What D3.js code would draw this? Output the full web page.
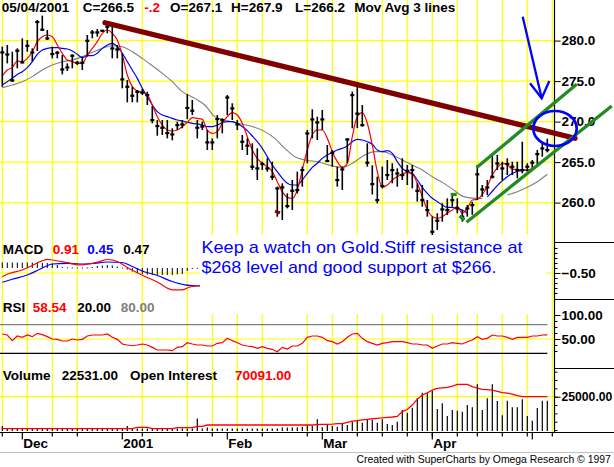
<!DOCTYPE html>
<html lang="en">
<head>
<meta charset="UTF-8">
<title>Gold daily - SuperCharts</title>
<script src="https://cdnjs.cloudflare.com/ajax/libs/d3/7.8.5/d3.min.js"></script>
<style>
  html, body { margin: 0; padding: 0; background: #fff; }
  svg { display: block; font-family: "Liberation Sans", Arial, sans-serif; }
  .lbl { font-size: 13.5px; font-weight: bold; }
  .axis text { font-size: 13.5px; font-weight: bold; fill: #000; font-family: "Liberation Sans", Arial, sans-serif; }
  .axis line { stroke: #000; }
  .grid { stroke: #ffff00; stroke-width: 1.2; }
</style>
</head>
<body>
<svg id="chart" width="614" height="467"></svg>
<script>
// ---- data (one entry per trading day, 27 Nov 2000 .. 4 May 2001)
const holidays = ["2000-12-25", "2001-01-01", "2001-01-15", "2001-02-19", "2001-04-13"];

const highs = [279.25,279.46,278.63,279.04,280.28,280.07,279.04,282.54,283.08,281.31,
  279.25,278.72,278.22,277.19,278.3,277.48,278.02,280.69,281.31,281.43,
  281.31,282.42,281.72,279.46,278.43,275.14,274.31,273.9,274.02,273.69,
  271.93,270.2,270.2,270.2,269.17,269.99,270.2,273.4,272.67,270.2,
  269.99,268.96,267.93,270.81,270.4,273.28,272.26,270.2,268.35,267.93,
  267.32,266.7,265.05,265.47,265.05,261.97,262.38,261.14,262.79,263.82,
  264.44,268.96,271.51,270.61,271.43,267.11,266.49,264.44,264.44,267.93,
  273.7,274.9,272.05,267.32,264.6,263.2,264.44,265.26,264.85,264.23,
  265.47,264.64,264.64,262.38,262.17,260.32,258.26,258.68,259.91,260.53,
  260.94,260.53,259.09,259.7,260.1,264.64,262.17,262.79,266.08,265.88,
  265.05,265.47,265.05,265.05,267.52,264.85,265.26,266.49,267.32,267.9];
const lows = [274.3,277.19,274.93,276.58,277.19,278.63,277.4,278.72,281.31,280.07,
  277.81,277.81,275.83,276.25,276.58,276.99,276.37,278.02,280.28,280.49,
  281.1,280.9,277.81,277.81,274.11,272.38,272.38,272.38,273.28,272.05,
  269.79,268.26,268.35,267.93,267.69,268.96,269.17,270.3,270.81,267.93,
  268.96,266.49,266.49,267.93,268.55,270.81,270.2,268.96,266.49,265.88,
  264.03,262.79,264.03,263.82,262.79,258.26,257.85,259.29,259.09,261.14,
  261.97,264.85,267.93,267.73,268.96,265.05,264.44,261.97,261.56,264.85,
  269.17,269.2,269.37,264.44,261.0,259.9,261.76,262.79,262.38,261.97,
  262.79,262.17,261.76,260.12,259.5,258.26,255.8,256.62,257.65,258.47,
  259.5,258.68,257.65,258.27,258.5,260.32,260.73,260.94,262.99,264.03,
  262.79,263.41,263.41,263.0,263.61,263.82,264.03,264.44,265.67,266.2];
const closes = [278.55,278.3,275.09,278.76,277.32,279.37,278.55,282.3,281.35,280.28,
  278.35,278.51,276.45,276.7,278.14,277.28,277.28,279.99,281.02,281.02,
  281.23,281.72,279.04,278.92,275.22,274.31,273.2,273.69,273.61,273.28,
  270.2,269.46,269.25,268.59,268.43,269.58,269.66,271.7,271.35,269.25,
  269.4,267.44,267.44,270.32,270.2,272.99,271.64,269.66,267.52,267.03,
  264.44,264.23,264.77,264.23,263.2,261.76,261.89,259.58,261.47,261.56,
  264.03,268.55,270.28,269.91,270.28,265.14,266.17,262.79,264.11,267.81,
  273.28,271.0,269.58,264.93,262.3,260.32,262.05,263.41,264.03,263.61,
  263.41,263.94,264.03,261.47,260.32,259.09,256.41,257.77,259.17,259.09,
  260.32,259.29,258.27,259.29,259.7,263.5,261.64,261.89,263.2,264.85,
  264.23,264.77,264.44,264.03,264.03,264.44,264.93,266.0,266.7,266.5];

// moving averages (null = not drawn)
const maFast = [275.63,276.37,276.7,277.48,277.4,277.81,278.63,279.87,280.49,280.69,
  280.49,279.46,278.43,277.6,277.4,277.19,277.19,278.22,279.04,279.87,
  280.9,281.31,280.9,280.07,278.22,275.75,274.31,273.78,273.61,273.28,
  272.05,270.61,269.58,268.96,268.84,268.96,269.37,269.9,270.49,270.4,
  270.28,268.96,268.55,268.76,269.79,270.61,271.1,270.81,269.79,268.14,
  266.49,265.46,264.85,264.44,263.82,262.58,261.35,260.65,260.53,261.56,
  264.03,266.49,268.35,268.96,268.96,267.93,266.29,265.05,264.35,264.85,
  268.14,270.61,271.1,269.79,267.1,263.82,261.89,262.17,262.79,263.2,
  263.53,263.7,263.53,262.38,260.73,259.09,258.27,258.06,258.27,258.68,
  259.09,259.5,258.68,259.29,260.32,260.4,261.0,262.0,263.4,264.3,
  264.85,264.7,264.1,264.1,264.0,264.03,264.2,null,null,null];
const maMid = [274.52,274.93,275.34,275.83,276.16,276.66,277.4,278.3,278.84,279.04,
  279.13,279.13,279.04,278.96,278.72,278.3,277.89,278.14,278.14,278.43,
  279.04,279.46,279.66,279.25,278.43,277.4,276.37,275.34,274.11,273.08,
  272.05,271.23,270.81,270.61,270.4,270.2,270.07,269.9,269.79,269.7,
  269.58,269.37,269.37,269.58,269.87,269.99,269.99,269.79,269.37,268.88,
  268.22,267.52,266.7,265.67,264.64,263.82,263.0,262.38,262.17,262.17,
  262.79,263.61,264.35,264.85,265.46,265.88,266.17,266.49,266.7,266.99,
  267.52,267.81,267.73,267.52,267.2,266.49,266.29,266.41,266.08,265.05,
  264.23,263.82,263.61,262.79,261.89,261.14,260.53,260.12,259.7,259.42,
  259.42,259.29,259.09,258.68,null,null,null,260.7,261.4,262.1,
  262.7,263.2,263.6,263.85,263.95,264.0,264.1,null,null,null];
// slow average read at [bar, value]; null splits the line
const maSlow = [[0,274.19],[2,274.52],[4,274.93],[6,275.55],[8,276.37],[10,276.99],[12,277.4],
  [14,277.6],[16,278.02],[18,278.55],[20,279.04],[22,279.37],[24,279.25],[26,278.63],[28,277.81],
  [30,276.9],[32,275.96],[34,274.93],[36,273.7],[38.5,272.87],[40.5,272.05],[42.5,270.61],
  [44.5,270.2],[47,269.79],[50,269.4],[52.5,268.76],[54.5,267.93],[56.5,266.7],[58.5,265.67],
  [60.5,265.26],[63,265.05],[66,264.52],[68,264.35],[70,264.85],[72.5,265.88],[74.5,266.29],
  [76,266.29],[78,265.88],[80,265.26],[82,264.64],[84,264.03],[86,263.2],[88,262.5],[90,261.7],
  [92,260.8],[94,260.55],[96,260.5], null,
  [101,260.94],[103,261.35],[105,261.89],[107,262.58],[109,263.5]];

// MACD (visible part only, the note box hides the rest)
const macdLine = [[0,-0.87],[1.5,-0.53],[3.5,-0.27],[5.5,0.13],[7.5,0.63],[9,0.87],[10,0.8],[13,0.53],
  [15.5,0.3],[17.5,0.42],[19.5,0.65],[21,0.85],[23,0.65],[25,0.05],[28,-0.72],[31,-1.4],[34,-2.18],
  [36,-2.18],[37.5,-1.9],[39.6,-1.75]];
const macdSignal = [[0,-1.43],[2,-1.13],[5,-0.7],[7.5,-0.13],[10,0.4],[13,0.47],[15.5,0.4],[18,0.45],
  [21,0.6],[24,0.55],[26,0.15],[28,-0.3],[31,-0.75],[34,-1.35],[36.5,-1.68],[39.6,-1.8]];
const macdHist = [0.55,0.55,0.55,0.55,0.55,0.55,0.55,0.55,0.5,0.5,
  0.45,0.3,0.1,0.08,0.05,0.05,0.05,0.05,0.1,0.2,
  0.25,0.3,0.25,0.15,0.05,-0.15,-0.35,-0.5,-0.6,-0.65,
  -0.7,-0.7,-0.7,-0.7,-0.7,-0.65,-0.6,-0.3,-0.05,0.03];

const rsi = [60.4,58.3,46.5,56.3,53.5,58.3,54.9,61.8,59,54.9,
  50,49.3,45.8,45.8,50,47.9,49.3,56.3,58.3,58.3,
  58.3,60.4,53.5,49.3,39.6,37.5,36,37.5,39.6,37.5,
  32.6,27.1,27.1,27.1,25.7,32.6,34,42.3,39.6,37.5,
  37.5,35.4,35.4,41,42.3,51.4,46.5,42.3,37.5,35.4,
  34,30.6,34,30.6,28.5,23.5,32.6,29.2,35.4,35.4,
  41,53.5,56.3,56.3,53.5,46.5,44.4,39.6,44.4,53.5,
  60.4,61.8,51.4,44.4,41,37.5,41,42.3,44.4,44.4,
  44.4,42.3,39.6,39.6,37.5,37.5,30.6,35.4,39.6,39.6,
  42.3,41,39.6,44.4,47.9,54.9,49.3,51.4,58.3,56.3,
  56.3,53.5,49.3,53.5,53.5,53.5,56.3,56.3,58.3,58.54];

const volume = [7400,6000,6000,6000,6000,6000,6000,6000,6000,6000,
  6000,6000,6000,6000,6000,6000,6000,6000,6000,6000,
  6000,6000,6000,6000,6000,7400,6000,6000,6000,6000,
  6000,6000,6000,6000,6000,6000,6000,6000,6000,12000,
  6000,6600,6000,6000,6000,6000,6000,6000,6000,6000,
  6000,6000,6000,6000,6000,6000,6600,6600,6600,6600,
  7000,8040,7440,11440,6640,8440,7440,7040,9040,8040,
  10040,11040,9440,11440,11040,9440,11440,8640,8040,10040,
  17040,15440,18440,24040,27440,27040,28440,17640,21040,13440,
  17040,16640,16040,20040,18640,32440,17040,24040,32440,22440,
  13940,22640,18640,18640,23440,13440,10640,18240,22640,22531];
const openInterest = [16300,16300,16300,16300,16300,16300,16300,16300,16300,16300,
  16300,16300,16300,16300,16300,16300,16300,16300,16300,16300,
  16300,16300,16300,16300,16300,16300,16300,18700,18700,18700,
  16300,16300,16300,16300,16300,18000,18000,18000,18000,20300,
  20300,22500,22500,22500,22500,22500,22500,22500,22500,22500,
  22500,22500,22500,22500,22500,22500,22500,22500,22500,22500,
  22500,22500,22500,23000,23500,23600,24000,24700,25000,27000,
  29000,30000,31000,32000,33000,33700,34500,35500,36000,37000,
  45000,48500,56000,66000,73000,76500,81300,84000,85000,85800,
  88000,90850,90850,90850,87000,84500,82500,82000,81300,79000,
  76800,76000,74600,72000,70100,70100,70100,70100,70100,70091];

// hand drawn marks, in [bar, price]
const resistanceLine = [[20.54, 282.21], [114.54, 267.94]];
const channelUpper = [[94.88, 264.33], [114.88, 274.6]];
const channelLower = [[92.84, 257.58], [121.88, 271.93]];
const greenMarks = [[[89.68, 261.0], [90.88, 261.0]], [[91.44, 258.35], [92.44, 257.85]]];
const brownMark = [[54.54, 258.96], [55.54, 258.72]];
const arrowShaft = [[104.08, 282.95], [107.88, 272.88]];
const arrowHead = [[105.54, 274.73], [107.88, 272.88], [109.4, 275.01]];
const ring = { bar: 110.54, price: 269.15, halfBars: 4.34, halfPrice: 2.16 };

const priceTicks = [260, 265, 270, 275, 280];
const header = [
  { t: "05/04/2001", x: 1.7, c: "#000" }, { t: "C=266.5", x: 82.7, c: "#000" },
  { t: "-.2", x: 144.3, c: "#ff0000" }, { t: "O=267.1", x: 170, c: "#000" },
  { t: "H=267.9", x: 231, c: "#000" }, { t: "L=266.2", x: 295, c: "#000" },
  { t: "Mov Avg 3 lines", x: 354.3, c: "#000" }];
const noteLines = ["Keep a watch on Gold.Stiff resistance at", "$268 level and good support at $266."];

// ---- layout
const axisX = 554.5, baseY = 432.5;
const svg = d3.select("#chart");

const fmtKey = d3.timeFormat("%Y-%m-%d");
const calendar = d3.timeDay.range(new Date(2000, 10, 27), new Date(2001, 4, 8))
  .filter(d => d.getDay() % 6 !== 0 && !holidays.includes(fmtKey(d)));
const days = calendar.slice(0, closes.length);

const x = d3.scaleLinear().domain([0, 109]).range([2.3, 547.3]);
const yPrice = d3.scaleLinear().domain([260, 280]).range([202.6, 40.6]);
const yMacd = d3.scaleLinear().domain([-0.5, 0]).range([273, 268]);
const yRsi = d3.scaleLinear().domain([20, 100]).range([353.4, 315]);
const yVol = d3.scaleLinear().domain([0, 25000]).range([438.4, 396.7]);
const yOI = d3.scaleLinear().domain([0, 70091]).range([438.4, 396.7]);

const mondays = calendar.map((d, i) => d.getDay() === 1 ? i : -1).filter(i => i >= 0 && x(i) < axisX);
const monthStarts = days.map((d, i) => i > 0 && d.getMonth() !== days[i - 1].getMonth() ? i : -1).filter(i => i >= 0);

// ---- grid
const grid = svg.append("g");
grid.selectAll(".v").data(mondays).join("line").attr("class", "grid")
  .attr("x1", x).attr("x2", x).attr("y1", 0).attr("y2", baseY);
grid.selectAll(".hp").data(priceTicks).join("line").attr("class", "grid")
  .attr("x1", 0).attr("x2", axisX).attr("y1", yPrice).attr("y2", yPrice);
grid.append("line").attr("class", "grid").attr("x1", 0).attr("x2", axisX).attr("y1", yMacd(-0.5)).attr("y2", yMacd(-0.5));
grid.append("line").attr("class", "grid").attr("x1", 0).attr("x2", axisX).attr("y1", yRsi(50)).attr("y2", yRsi(50));
grid.append("line").attr("class", "grid").attr("x1", 0).attr("x2", axisX).attr("y1", yVol(25000)).attr("y2", yVol(25000));

// ---- price panel
const lineOf = (ys) => d3.line().defined(d => d != null).x((d, i) => x(i)).y(d => ys(d));
svg.append("path").datum(maSlow).attr("fill", "none").attr("stroke", "#808080").attr("stroke-width", 1.1)
  .attr("d", d3.line().defined(d => d != null).x(d => x(d[0])).y(d => yPrice(d[1])).curve(d3.curveMonotoneX));
svg.append("path").datum(maMid).attr("fill", "none").attr("stroke", "#0000ff").attr("stroke-width", 1.2)
  .attr("d", lineOf(yPrice).curve(d3.curveMonotoneX));
svg.append("path").datum(maFast).attr("fill", "none").attr("stroke", "#ff0000").attr("stroke-width", 1.2)
  .attr("d", lineOf(yPrice).curve(d3.curveMonotoneX));

const bars = svg.append("g").selectAll("g").data(closes).join("g");
bars.append("line").attr("stroke", "#000").attr("stroke-width", 1.6)
  .attr("x1", (d, i) => x(i)).attr("x2", (d, i) => x(i))
  .attr("y1", (d, i) => yPrice(highs[i])).attr("y2", (d, i) => yPrice(lows[i]));
bars.append("rect").attr("fill", "#000")
  .attr("x", (d, i) => x(i) - 2).attr("y", d => yPrice(d) - 1).attr("width", 4).attr("height", 2.2);

// ---- MACD
svg.append("g").selectAll("rect").data(macdHist).join("rect").attr("fill", "#000")
  .attr("x", (d, i) => x(i) - 0.5).attr("width", 1)
  .attr("y", d => Math.min(yMacd(0), yMacd(d)))
  .attr("height", d => Math.max(1, Math.abs(yMacd(d) - yMacd(0))));
const pairLine = (ys) => d3.line().defined(d => d != null).x(d => x(d[0])).y(d => ys(d[1])).curve(d3.curveMonotoneX);
svg.append("path").datum(macdSignal).attr("fill", "none").attr("stroke", "#0000ff").attr("stroke-width", 1.2).attr("d", pairLine(yMacd));
svg.append("path").datum(macdLine).attr("fill", "none").attr("stroke", "#ff0000").attr("stroke-width", 1.2).attr("d", pairLine(yMacd));

// ---- RSI
svg.append("line").attr("x1", 0).attr("x2", x(109)).attr("y1", yRsi(80)).attr("y2", yRsi(80)).attr("stroke", "#808080").attr("stroke-width", 1.2);
svg.append("line").attr("x1", 0).attr("x2", x(109)).attr("y1", yRsi(20)).attr("y2", yRsi(20)).attr("stroke", "#000").attr("stroke-width", 1.2);
svg.append("path").datum(rsi).attr("fill", "none").attr("stroke", "#ff0000").attr("stroke-width", 1.2).attr("d", lineOf(yRsi));

// ---- volume / open interest
svg.append("g").selectAll("line").data(volume).join("line").attr("stroke", "#000").attr("stroke-width", 1.2)
  .attr("x1", (d, i) => x(i)).attr("x2", (d, i) => x(i))
  .attr("y1", 431).attr("y2", d => Math.min(430, yVol(d)));
svg.append("path").datum(openInterest).attr("fill", "none").attr("stroke", "#ff0000").attr("stroke-width", 1.3).attr("d", lineOf(yOI));

// ---- note box
svg.append("rect").attr("x", 200).attr("y", 235).attr("width", 346).attr("height", 79).attr("fill", "#fff");
svg.selectAll(".note").data(noteLines).join("text").attr("class", "note")
  .attr("x", 201.5).attr("y", (d, i) => 253.3 + i * 19.4)
  .attr("font-size", 17).attr("fill", "#0000ff")
  .attr("textLength", (d, i) => i === 0 ? 321 : 295).attr("lengthAdjust", "spacingAndGlyphs")
  .text(d => d);

// ---- labels
svg.selectAll(".hdr").data(header).join("text").attr("class", "lbl")
  .attr("x", d => d.x).attr("y", 11.7).attr("fill", d => d.c).text(d => d.t);
const panelLabel = (y, parts) => svg.append("g").selectAll("text").data(parts).join("text").attr("class", "lbl")
  .attr("x", d => d[1]).attr("y", y).attr("fill", d => d[2]).text(d => d[0]);
panelLabel(254.3, [["MACD", 2.7, "#000"], ["0.91", 52.7, "#ff0000"], ["0.45", 87.3, "#0000ff"], ["0.47", 123.3, "#000"]]);
panelLabel(311.7, [["RSI", 2.7, "#000"], ["58.54", 32.7, "#ff0000"], ["20.00", 77.3, "#000"], ["80.00", 120.7, "#808080"]]);
panelLabel(380, [["Volume", 2.7, "#000"], ["22531.00", 61.7, "#000"], ["Open Interest", 130, "#000"], ["70091.00", 235, "#ff0000"]]);

// ---- right axes
const frame = svg.append("g").attr("stroke", "#000").attr("stroke-width", 1.2);
frame.append("line").attr("x1", axisX).attr("x2", axisX).attr("y1", 0).attr("y2", baseY);
[242.5, 299.5, 368.5].forEach(y => frame.append("line").attr("x1", axisX).attr("x2", 614).attr("y1", y).attr("y2", y));
frame.append("line").attr("x1", 0).attr("x2", 614).attr("y1", baseY).attr("y2", baseY);

function rightAxis(scale, labelled, fmt, minor) {
  const g = svg.append("g").attr("class", "axis").attr("transform", `translate(${axisX},0)`);
  if (minor) g.append("g").call(d3.axisRight(scale).tickValues(minor).tickSize(3).tickFormat(""));
  g.append("g").call(d3.axisRight(scale).tickValues(labelled).tickSize(6).tickPadding(1).tickFormat(d3.format(fmt)));
  g.selectAll(".domain").remove();
  return g;
}
rightAxis(yPrice, priceTicks, ".1f");
rightAxis(yMacd, [-0.5], ".2f", d3.range(-2.5, 2.01, 0.5));
rightAxis(yRsi, [50, 100], ".2f", d3.range(25, 100, 12.5));
rightAxis(yVol, [25000], ".2f", d3.range(5000, 42000, 5000))
  .selectAll("text").style("font-size", "12.2px");

// ---- time axis
const monthFmt = d => d.getMonth() === 0 ? d3.timeFormat("%Y")(d) : d3.timeFormat("%b")(d);
const xa = svg.append("g").attr("stroke", "#000").attr("stroke-width", 1.2);
xa.selectAll(".wk").data(mondays.filter(i => !monthStarts.some(m => i - m > 0 && i - m <= 2))).join("line")
  .attr("x1", x).attr("x2", x).attr("y1", baseY).attr("y2", baseY + 4);
xa.selectAll(".mo").data(monthStarts).join("line")
  .attr("x1", x).attr("x2", x).attr("y1", baseY).attr("y2", baseY + 7);
svg.selectAll(".mlab").data(monthStarts.filter(i => x(i) + 30 < axisX)).join("text").attr("class", "lbl")
  .attr("x", i => x(i) + 1).attr("y", 448.3).text(i => monthFmt(days[i]));

// ---- footer
svg.append("line").attr("x1", 0).attr("x2", 614).attr("y1", 452.5).attr("y2", 452.5).attr("stroke", "#c0c0c0");
svg.append("text").attr("x", 356.5).attr("y", 463).attr("font-size", 10.4)
  .text("Created with SuperCharts by Omega Research \u00a9 1997");

// ---- hand drawn marks on top
const pt = d => [x(d[0]), yPrice(d[1])];
const seg = d3.line().x(d => pt(d)[0]).y(d => pt(d)[1]);
svg.append("path").attr("d", seg(resistanceLine)).attr("stroke", "#800000").attr("stroke-width", 5.3).attr("stroke-linecap", "round");
svg.append("path").attr("d", seg(brownMark)).attr("stroke", "#800000").attr("stroke-width", 3);
[channelUpper, channelLower].concat(greenMarks).forEach(l =>
  svg.append("path").attr("d", seg(l)).attr("stroke", "#228b22").attr("stroke-width", 3.3).attr("fill", "none"));
svg.append("path").attr("d", seg(arrowShaft)).attr("stroke", "#0000ff").attr("stroke-width", 2.3);
svg.append("path").attr("d", seg(arrowHead)).attr("stroke", "#0000ff").attr("stroke-width", 2.3).attr("fill", "none");
svg.append("ellipse")
  .attr("cx", x(ring.bar)).attr("cy", yPrice(ring.price))
  .attr("rx", x(ring.bar + ring.halfBars) - x(ring.bar))
  .attr("ry", yPrice(ring.price - ring.halfPrice) - yPrice(ring.price))
  .attr("fill", "none").attr("stroke", "#0000ff").attr("stroke-width", 2.7);
</script>
</body>
</html>
